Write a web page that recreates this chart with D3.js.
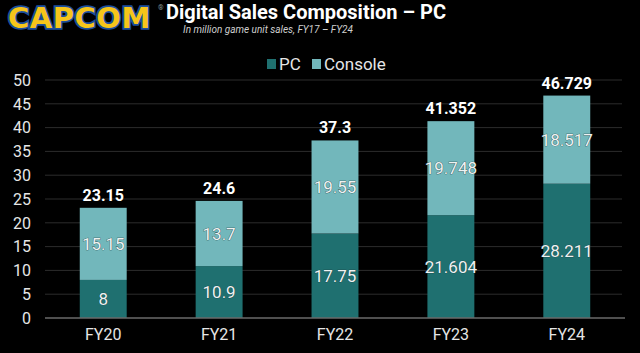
<!DOCTYPE html>
<html>
<head>
<meta charset="UTF-8">
<script src="https://d3js.org/d3.v7.min.js"></script>
<style>
  body { margin: 0; background: #000; }
  text { font-family: Roboto, "Noto Sans", sans-serif; }
</style>
</head>
<body>
<svg id="canvas"></svg>
<script>
  width = 640;
  height = 353;

  years = ["FY20", "FY21", "FY22", "FY23", "FY24"];
  pc = [8, 10.9, 17.75, 21.604, 28.211];
  console_ = [15.15, 13.7, 19.55, 19.748, 18.517];
  totals = ["23.15", "24.6", "37.3", "41.352", "46.729"];
  yTicks = [0, 5, 10, 15, 20, 25, 30, 35, 40, 45, 50];

  colors = { pc: "#1f7070", console: "#72b7bb" };

  svg = d3.select("#canvas")
      .attr("width", width)
      .attr("height", height)
      .style("background", "#000");

  x = d3.scaleBand()
      .domain(years)
      .range([45, 625])
      .paddingInner(0.595)
      .paddingOuter(0.3);

  y = d3.scaleLinear()
      .domain([0, 50])
      .range([318, 80]);

  // gridlines
  svg.append("g")
      .selectAll("line")
      .data(yTicks.filter(d => d > 0))
      .enter().append("line")
        .attr("x1", 45).attr("x2", 622)
        .attr("y1", d => y(d)).attr("y2", d => y(d))
        .attr("stroke", "#2c2c2c").attr("stroke-width", 1);

  // y axis labels
  svg.append("g")
      .selectAll("text")
      .data(yTicks)
      .enter().append("text")
        .attr("x", 31)
        .attr("y", d => y(d))
        .attr("dy", "0.36em")
        .attr("text-anchor", "end")
        .attr("fill", "#e6e6e6")
        .style("font-size", "16px")
        .text(d => d);

  rows = years.map((d, i) => ({ year: d, pc: pc[i], console: console_[i], total: totals[i] }));
  stack = d3.stack().keys(["pc", "console"])(rows);

  layers = svg.append("g")
      .selectAll("g")
      .data(stack)
      .enter().append("g")
        .attr("fill", d => colors[d.key]);

  layers.selectAll("rect")
      .data(d => d)
      .enter().append("rect")
        .attr("x", d => x(d.data.year))
        .attr("width", x.bandwidth())
        .attr("y", d => y(d[1]))
        .attr("height", d => y(d[0]) - y(d[1]));

  // segment values
  layers.selectAll("text")
      .data(d => d.map(s => ({ key: d.key, s: s })))
      .enter().append("text")
        .attr("x", d => x(d.s.data.year) + x.bandwidth() / 2)
        .attr("y", d => y((d.s[0] + d.s[1]) / 2))
        .attr("dy", "0.36em")
        .attr("text-anchor", "middle")
        .attr("fill", "#eef2f2")
        .attr("stroke", "#1a3a3a")
        .attr("stroke-width", 0.6)
        .attr("paint-order", "stroke")
        .style("font-size", "17px")
        .text(d => d.s.data[d.key]);

  // totals
  svg.append("g")
      .selectAll("text")
      .data(rows)
      .enter().append("text")
        .attr("x", d => x(d.year) + x.bandwidth() / 2)
        .attr("y", d => y(d.pc + d.console) - 7)
        .attr("text-anchor", "middle")
        .attr("fill", "#fff")
        .style("font-size", "16px")
        .style("font-weight", "bold")
        .text(d => d.total);

  // baseline
  svg.append("line")
      .attr("x1", 45).attr("x2", 625)
      .attr("y1", y(0)).attr("y2", y(0))
      .attr("stroke", "#6a6a6a").attr("stroke-width", 1.5);

  // x axis labels
  svg.append("g")
      .selectAll("text")
      .data(years)
      .enter().append("text")
        .attr("x", d => x(d) + x.bandwidth() / 2)
        .attr("y", 340)
        .attr("text-anchor", "middle")
        .attr("fill", "#e6e6e6")
        .style("font-size", "16px")
        .text(d => d);

  // legend
  legend = svg.append("g").attr("transform", "translate(267, 64)");
  legendItems = [["PC", colors.pc, 0], ["Console", colors.console, 45]];
  legendItems.forEach(item => {
    legend.append("rect")
        .attr("x", item[2]).attr("y", -5)
        .attr("width", 9).attr("height", 10)
        .attr("fill", item[1]);
    legend.append("text")
        .attr("x", item[2] + 12).attr("y", 0)
        .attr("dy", "0.36em")
        .attr("fill", "#e6e6e6")
        .style("font-size", "17px")
        .text(item[0]);
  });

  // title
  svg.append("text")
      .attr("x", 446).attr("y", 19)
      .attr("text-anchor", "end")
      .attr("fill", "#fff")
      .style("font-size", "20px")
      .style("font-weight", "bold")
      .text("Digital Sales Composition \u2013 PC");

  svg.append("text")
      .attr("x", 183).attr("y", 33)
      .attr("fill", "#cfcfcf")
      .style("font-size", "10px")
      .style("font-style", "italic")
      .text("In million game unit sales, FY17 \u2013 FY24");

  // logo
  logo = svg.append("g");
  logo.append("text")
      .attr("x", 8).attr("y", 28)
      .attr("fill", "#f6c51a")
      .attr("stroke", "#1d4f9c")
      .attr("stroke-width", 3.5)
      .attr("paint-order", "stroke")
      .style("font-family", "'DejaVu Sans', sans-serif")
      .style("font-size", "29px")
      .style("font-weight", "bold")
      .style("letter-spacing", "0.5px")
      .text("CAPCOM");
  logo.append("text")
      .attr("x", 158).attr("y", 10)
      .attr("fill", "#8a9a9a")
      .style("font-size", "7px")
      .text("\u00ae");
</script>
</body>
</html>
